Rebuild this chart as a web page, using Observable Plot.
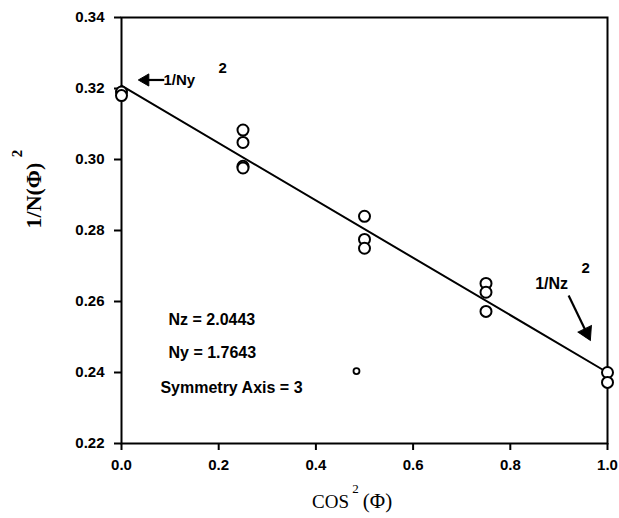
<!DOCTYPE html>
<html>
<head>
<meta charset="utf-8">
<script src="https://cdn.jsdelivr.net/npm/d3@7"></script>
<script src="https://cdn.jsdelivr.net/npm/@observablehq/plot@0.6"></script>
<style>
  html, body { margin: 0; padding: 0; background: #fff; }
</style>
</head>
<body>
<div id="chart"></div>
<script>
// Measured data: cos^2(Phi) vs 1/N(Phi)^2
const cos2  = [0, 0, 0.25, 0.25, 0.25, 0.25, 0.5, 0.5, 0.5, 0.75, 0.75, 0.75, 1, 1];
const invN2 = [0.3190, 0.3180, 0.3083, 0.3048, 0.2981, 0.2976, 0.2840, 0.2775, 0.2750, 0.2651, 0.2626, 0.2572, 0.2400, 0.2372];

// Fitted line endpoints
const fitX = [0, 1];
const fitY = [0.3208, 0.2400];

// Stray small marker
const smallX = [0.4835];
const smallY = [0.2404];

// Tick values
const xTicks = [0, 0.2, 0.4, 0.6, 0.8, 1.0];
const yTicks = [0.22, 0.24, 0.26, 0.28, 0.30, 0.32, 0.34];

// Annotation text
const infoLines = ["Nz = 2.0443", "Ny = 1.7643", "Symmetry Axis = 3"];
const infoX = [0.0967, 0.0967, 0.080];
const infoY = [0.2549, 0.2456, 0.2358];

const points = cos2.map((x, i) => ({x, y: invN2[i]}));
const fit = fitX.map((x, i) => ({x, y: fitY[i]}));
const small = smallX.map((x, i) => ({x, y: smallY[i]}));
const info = infoLines.map((t, i) => ({t, x: infoX[i], y: infoY[i]}));

const sans = "Liberation Sans, Arial, Helvetica, sans-serif";
const serif = "Liberation Serif, Times New Roman, serif";

const chart = Plot.plot({
  width: 619,
  height: 518,
  marginLeft: 121,
  marginRight: 12,
  marginTop: 17,
  marginBottom: 75,
  style: {fontFamily: sans, fontSize: "15px", fontWeight: "bold", color: "black", background: "white"},
  x: {domain: [0, 1]},
  y: {domain: [0.22, 0.34]},
  marks: [
    Plot.frame({stroke: "black", strokeWidth: 2}),
    Plot.axisX({ticks: xTicks, tickFormat: d3.format(".1f"), tickSize: 7, tickPadding: 9, strokeWidth: 2, label: null, fontSize: 15}),
    Plot.axisY({ticks: yTicks, tickFormat: d3.format(".2f"), tickSize: 7, tickPadding: 10, strokeWidth: 2, label: null, fontSize: 15}),
    Plot.line(fit, {x: "x", y: "y", stroke: "black", strokeWidth: 2}),
    Plot.dot(points, {x: "x", y: "y", r: 5.5, stroke: "black", strokeWidth: 2, fill: "white"}),
    Plot.dot(small, {x: "x", y: "y", r: 3, stroke: "black", strokeWidth: 1.8, fill: "white"}),
    // info text
    Plot.text(info, {x: "x", y: "y", text: "t", textAnchor: "start", fontSize: 16, fontWeight: "bold", fill: "black"}),
    // 1/Ny annotation
    Plot.link([{x1: 0.049, x2: 0.088, y: 0.3224}], {x1: "x1", x2: "x2", y1: "y", y2: "y", stroke: "black", strokeWidth: 2.2}),
    Plot.dot([{x: 0.049, y: 0.3224}], {x: "x", y: "y", symbol: "triangle", r: 4.5, rotate: -90, fill: "black", stroke: "black", strokeWidth: 1}),
    Plot.text([{x: 0.0864, y: 0.3224, t: "1/Ny"}], {x: "x", y: "y", text: "t", textAnchor: "start", fontSize: 15, fontWeight: "bold", fill: "black"}),
    Plot.text([{x: 0.208, y: 0.3258, t: "2"}], {x: "x", y: "y", text: "t", fontSize: 15, fontWeight: "bold", fill: "black"}),
    // 1/Nz annotation
    Plot.text([{x: 0.885, y: 0.2651, t: "1/Nz"}], {x: "x", y: "y", text: "t", fontSize: 16, fontWeight: "bold", fill: "black"}),
    Plot.text([{x: 0.955, y: 0.2693, t: "2"}], {x: "x", y: "y", text: "t", fontSize: 15, fontWeight: "bold", fill: "black"}),
    Plot.link([{x1: 0.920, y1: 0.2617, x2: 0.957, y2: 0.2512}], {x1: "x1", y1: "y1", x2: "x2", y2: "y2", stroke: "black", strokeWidth: 2.2}),
    Plot.dot([{x: 0.957, y: 0.2512}], {x: "x", y: "y", symbol: "triangle", r: 5.5, rotate: 154, fill: "black", stroke: "black", strokeWidth: 1}),
    // Axis titles
    Plot.text(["1/N(Φ)"], {frameAnchor: "left", textAnchor: "middle", lineAnchor: "middle", text: d => d, rotate: -90, dx: -88, dy: -35, fontFamily: serif, fontSize: 22, fontWeight: "bold", fill: "black"}),
    Plot.text(["2"], {frameAnchor: "left", textAnchor: "middle", lineAnchor: "middle", text: d => d, rotate: -90, dx: -104, dy: -77, fontFamily: serif, fontSize: 15, fontWeight: "bold", fill: "black"}),
    Plot.text(["COS"], {frameAnchor: "bottom", textAnchor: "middle", lineAnchor: "middle", text: d => d, dx: -34, dy: 58, fontFamily: serif, fontSize: 19, fontWeight: "normal", fill: "black"}),
    Plot.text(["2"], {frameAnchor: "bottom", textAnchor: "middle", lineAnchor: "middle", text: d => d, dx: -9, dy: 45, fontFamily: serif, fontSize: 13, fontWeight: "normal", fill: "black"}),
    Plot.text(["(Φ)"], {frameAnchor: "bottom", textAnchor: "middle", lineAnchor: "middle", text: d => d, dx: 13, dy: 58, fontFamily: serif, fontSize: 21, fontWeight: "normal", fill: "black"})
  ]
});
document.getElementById("chart").appendChild(chart);
</script>
</body>
</html>
